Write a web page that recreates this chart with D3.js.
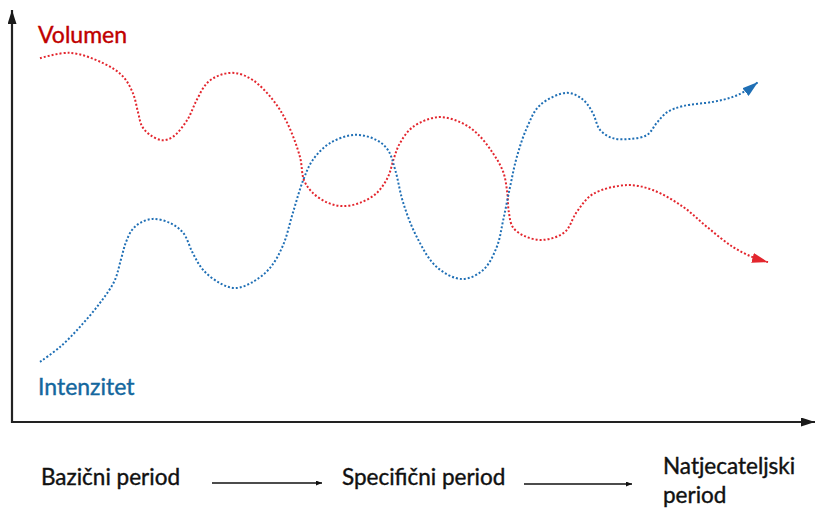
<!DOCTYPE html>
<html>
<head>
<meta charset="utf-8">
<script src="https://cdn.jsdelivr.net/npm/d3@7"></script>
<style>
  html, body { margin: 0; padding: 0; background: #fff; }
  svg { display: block; }
  text { font-family: Lato, "Open Sans", sans-serif; }
</style>
</head>
<body>
<svg id="chart" width="815" height="513"></svg>
<script>
// ---- data (x: time 0..100, y: level 0..100) ----
const volumenX = [3.5, 7.25, 11.4, 13.8, 15.1, 15.75, 16.25, 17.25, 18.75, 20.1, 21.9, 23.1, 24.4, 26, 27.9, 30.1, 32.6, 34.4, 36, 36.5, 37.6, 39.5, 41.4, 43.5, 45.6, 47, 47.75, 48.5, 50.1, 53.25, 56, 58.1, 60.1, 61.4, 61.9, 62.1, 62.6, 64.1, 66.4, 69.1, 70.6, 72.6, 76.9, 80.1, 83.9, 86.9, 90.1, 92.6, 94.5];
const volumenY = [88.3, 89.6, 87.1, 84.0, 79.9, 75.2, 71.8, 69.7, 68.4, 69.2, 73.3, 78.2, 82.3, 84.2, 84.7, 83.0, 78.2, 72.6, 64.3, 58.7, 55.6, 53.2, 52.4, 53.2, 55.6, 59.5, 64.1, 67.7, 71.6, 74.0, 72.8, 70.1, 65.3, 60.7, 55.8, 51.0, 47.3, 45.1, 44.2, 46.1, 51.0, 55.3, 57.5, 56.3, 52.2, 47.3, 42.5, 40.0, 38.8];

const intenzitetX = [3.5, 6, 8.5, 11, 12.8, 13.6, 14.2, 15, 16, 17.6, 19.75, 21.4, 22.6, 23.9, 26, 27.9, 30.1, 32.25, 33.9, 35.1, 36.4, 37.6, 39.75, 42.9, 45.6, 47, 47.9, 48.9, 50.6, 53.1, 56.25, 58.9, 60.6, 61.4, 62.25, 63.1, 64.4, 66, 69.4, 71.4, 72.6, 73.5, 75.1, 77.25, 79.4, 80.6, 81.9, 83.9, 87.6, 90.1, 91.9, 93.25];
const intenzitetY = [14.6, 18.2, 23.1, 28.9, 34.2, 39.3, 43.4, 46.6, 48.3, 49.3, 48.3, 45.9, 41.0, 36.9, 33.7, 32.5, 34.0, 37.4, 43.0, 50.7, 58.7, 63.6, 67.7, 69.7, 68.4, 66.0, 61.2, 53.2, 44.9, 37.6, 34.7, 36.9, 42.5, 49.0, 57.0, 64.3, 71.6, 76.9, 79.9, 78.2, 75.0, 70.9, 68.9, 68.7, 69.7, 72.6, 75.2, 76.7, 77.7, 78.9, 80.6, 82.5];

const seriesNames = ["Volumen", "Intenzitet"];
const periodLabels = ["Bazični period", "Specifični period", "Natjecateljski period"];

// ---- setup ----
const svg = d3.select("#chart");
const x = d3.scaleLinear().domain([0, 100]).range([12, 812]);
const y = d3.scaleLinear().domain([0, 100]).range([422, 10]);

const colors = { line: ["#e3262e", "#1f6fb5"], label: ["#c00000", "#14679e"] };

const defs = svg.append("defs");
function marker(id, color, w, h) {
  defs.append("marker")
    .attr("id", id)
    .attr("markerUnits", "userSpaceOnUse")
    .attr("viewBox", `0 0 ${w} ${h}`)
    .attr("markerWidth", w).attr("markerHeight", h)
    .attr("refX", w).attr("refY", h / 2)
    .attr("orient", "auto")
    .append("path")
    .attr("d", `M0,0 L${w},${h / 2} L0,${h} Z`)
    .attr("fill", color);
}
marker("arrRed", colors.line[0], 16, 10);
marker("arrBlue", colors.line[1], 16, 10);
marker("arrAxis", "#1a1a1a", 14, 9);
marker("arrSmall", "#111", 6, 5);

// ---- axes ----
const [x0, x1] = x.range();
const [yb, yt] = y.range();
svg.append("line")
  .attr("x1", x0).attr("y1", yb + 1).attr("x2", x0).attr("y2", yt)
  .attr("stroke", "#222").attr("stroke-width", 2.2)
  .attr("marker-end", "url(#arrAxis)");
svg.append("line")
  .attr("x1", x0 - 1).attr("y1", yb).attr("x2", 815).attr("y2", yb)
  .attr("stroke", "#222").attr("stroke-width", 2.2)
  .attr("marker-end", "url(#arrAxis)");

// ---- curves ----
const line = d3.line()
  .x(d => x(d[0]))
  .y(d => y(d[1]))
  .curve(d3.curveCatmullRom.alpha(0.5));

const series = [
  d3.zip(volumenX, volumenY),
  d3.zip(intenzitetX, intenzitetY)
];
const markers = ["url(#arrRed)", "url(#arrBlue)"];

series.forEach((pts, i) => {
  svg.append("path")
    .datum(pts)
    .attr("d", line)
    .attr("fill", "none")
    .attr("stroke", colors.line[i])
    .attr("stroke-width", 2)
    .attr("stroke-dasharray", "2,2")
    .attr("marker-end", markers[i]);
});

// ---- series labels ----
svg.append("text")
  .attr("x", 38).attr("y", 43)
  .attr("fill", colors.label[0]).attr("stroke", colors.label[0]).attr("stroke-width", 0.4)
  .attr("font-size", 23)
  .text(seriesNames[0]);
svg.append("text")
  .attr("x", 38).attr("y", 395)
  .attr("fill", colors.label[1]).attr("stroke", colors.label[1]).attr("stroke-width", 0.4)
  .attr("font-size", 23)
  .text(seriesNames[1]);

// ---- period labels ----
const pg = svg.append("g").attr("fill", "#111").attr("stroke", "#111").attr("stroke-width", 0.4).attr("font-size", 22.5);
pg.append("text").attr("x", 41).attr("y", 485).text(periodLabels[0]);
pg.append("text").attr("x", 342).attr("y", 485).text(periodLabels[1]);
const nat = periodLabels[2].split(" ");
pg.append("text").attr("x", 663).attr("y", 474).text(nat[0]);
pg.append("text").attr("x", 663).attr("y", 503).text(nat[1]);

// arrows between periods
[[212, 322, 483], [524, 632, 484]].forEach(([a, b, yy]) => {
  svg.append("line")
    .attr("x1", a).attr("y1", yy).attr("x2", b).attr("y2", yy)
    .attr("stroke", "#111").attr("stroke-width", 1.3)
    .attr("marker-end", "url(#arrSmall)");
});
</script>
</body>
</html>
